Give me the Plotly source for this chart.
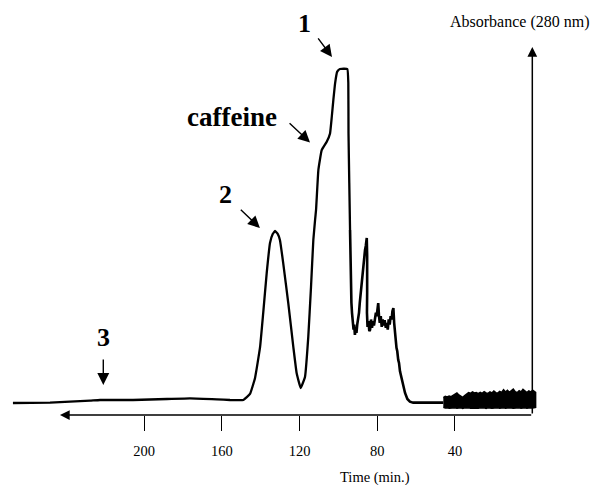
import plotly.graph_objects as go

# Chromatogram trace: elution time (min) and absorbance at 280 nm (relative units)
# smooth part of the run (baseline, peak 2, caffeine shoulder, peak 1)
time_min = [
    267.5, 248.4, 227.8, 222.7, 205.7, 188.2, 176.4, 162.5, 155.8, 148.9,
    145.5, 142.9, 140.3, 138.7, 136.9, 135.2, 133.8, 132.6, 131.3, 130.1,
    128.4, 125.8, 123.2, 121.5, 119.4, 117.2, 115.5, 114.1, 112.9, 112.0,
    111.5, 110.3, 108.6, 106.0, 104.3, 103.4, 102.6, 101.7, 100.6, 99.2,
    95.4, 94.9, 94.8, 94.4, 94.0,
]
absorbance = [
    0.000, 0.001, 0.007, 0.009, 0.009, 0.012, 0.014, 0.011, 0.009, 0.009,
    0.027, 0.075, 0.168, 0.269, 0.389, 0.479, 0.506, 0.515, 0.507, 0.488,
    0.419, 0.299, 0.168, 0.090, 0.045, 0.078, 0.198, 0.347, 0.488, 0.548,
    0.578, 0.698, 0.757, 0.782, 0.807, 0.857, 0.907, 0.957, 0.992, 1.000,
    1.000, 0.958, 0.808, 0.659, 0.518,
]

# noisy late-eluting region after peak 1
late_time = [
    94.0, 93.7, 93.3, 93.0, 92.6, 92.2, 91.9, 91.5, 91.1, 90.7, 90.3,
    89.8, 89.4, 89.0, 88.5, 88.0, 87.6, 87.2, 86.8, 86.3, 85.9,
    85.4, 85.2, 85.1, 85.2, 85.3, 85.0, 84.5, 84.1, 83.7, 83.2,
    82.7, 82.2, 81.7, 81.2, 80.7, 80.3, 79.9, 79.5, 79.1, 78.7,
    78.2, 77.7, 77.2, 76.7, 76.2, 75.6, 75.1, 74.6, 74.1, 73.6,
    73.1, 72.6, 72.2, 71.7, 71.3, 70.9, 70.5, 70.1, 69.7, 69.2,
    68.8, 68.3, 67.9, 67.4, 66.6, 65.7, 64.5, 63.2, 61.5, 46.0,
]
late_absorbance = [
    0.518, 0.347, 0.300, 0.270, 0.249, 0.220, 0.235, 0.204, 0.225, 0.210, 0.235,
    0.249, 0.270, 0.300, 0.330, 0.368, 0.390, 0.410, 0.430, 0.458, 0.470,
    0.494, 0.440, 0.398, 0.330, 0.270, 0.228, 0.245, 0.215, 0.219, 0.250,
    0.225, 0.245, 0.232, 0.249, 0.270, 0.260, 0.285, 0.299, 0.260, 0.240,
    0.260, 0.228, 0.250, 0.232, 0.248, 0.225, 0.240, 0.220, 0.250, 0.235,
    0.260, 0.250, 0.275, 0.284, 0.240, 0.198, 0.190, 0.165, 0.155, 0.129,
    0.120, 0.095, 0.085, 0.069, 0.048, 0.030, 0.012, 0.004, 0.001, 0.001,
]

# Noisy detector baseline at the end of the run: upper and lower envelope
noise_time = [
    46, 45, 44, 43, 42, 41, 40, 39, 38, 37, 36, 35, 34, 33, 32, 31, 30, 29,
    28, 27, 26, 25, 24, 23, 22, 21, 20, 19, 18, 17, 16, 15, 14, 13, 12, 11,
    10, 9, 8, 7, 6, 5, 4, 3, 2, 1, 0, -1, -1.5,
]
noise_upper = [
    0.016, 0.020, 0.018, 0.021, 0.019, 0.022, 0.026, 0.030, 0.024, 0.020,
    0.017, 0.022, 0.028, 0.031, 0.029, 0.033, 0.030, 0.031, 0.028, 0.032,
    0.029, 0.034, 0.030, 0.029, 0.033, 0.030, 0.036, 0.031, 0.030, 0.035,
    0.032, 0.040, 0.033, 0.038, 0.032, 0.036, 0.042, 0.034, 0.031, 0.037,
    0.033, 0.041, 0.035, 0.031, 0.036, 0.033, 0.038, 0.034, 0.032,
]
noise_lower = [
    -0.013, -0.015, -0.014, -0.016, -0.014, -0.015, -0.014, -0.016, -0.015, -0.014,
    -0.016, -0.014, -0.015, -0.014, -0.016, -0.015, -0.014, -0.015, -0.016, -0.014,
    -0.015, -0.014, -0.016, -0.014, -0.015, -0.016, -0.014, -0.015, -0.014, -0.016,
    -0.015, -0.014, -0.016, -0.015, -0.014, -0.015, -0.016, -0.014, -0.015, -0.014,
    -0.016, -0.015, -0.014, -0.016, -0.015, -0.014, -0.015, -0.014, -0.013,
]

tick_values = [200, 160, 120, 80, 40]
tick_labels = ["200", "160", "120", "80", "40"]

serif = "Liberation Serif"
ink = "#000000"

fig = go.Figure()

fig.add_trace(go.Scatter(
    x=time_min, y=absorbance, mode="lines",
    line=dict(color=ink, width=2.3, shape="spline", smoothing=0.3),
    hoverinfo="skip", showlegend=False,
))

fig.add_trace(go.Scatter(
    x=late_time, y=late_absorbance, mode="lines",
    line=dict(color=ink, width=2.6),
    hoverinfo="skip", showlegend=False,
))

fig.add_trace(go.Scatter(
    x=noise_time + noise_time[::-1],
    y=noise_upper + noise_lower[::-1],
    mode="lines", fill="toself", fillcolor=ink,
    line=dict(color=ink, width=1.5),
    hoverinfo="skip", showlegend=False,
))

annotations = []

# axis arrows (time runs right-to-left, absorbance upward at t = 0)
y_floor = -0.0359
annotations.append(dict(
    x=243.3, y=y_floor, ax=0.0, ay=y_floor, xref="x", yref="y", axref="x", ayref="y",
    text="", showarrow=True, arrowhead=2, arrowsize=1.3, arrowwidth=1.5,
    arrowcolor=ink, standoff=0, startstandoff=0,
))
annotations.append(dict(
    x=0.2, y=1.066, ax=0.2, ay=y_floor, xref="x", yref="y", axref="x", ayref="y",
    text="", showarrow=True, arrowhead=2, arrowsize=1.3, arrowwidth=1.5,
    arrowcolor=ink, standoff=0, startstandoff=0,
))

# peak pointers
pointers = [
    (103.3, 1.036, 111.0, 1.096),
    (114.6, 0.780, 125.9, 0.842),
    (140.4, 0.524, 151.0, 0.583),
    (221.0, 0.054, 221.0, 0.135),
]
for hx, hy, tx, ty in pointers:
    annotations.append(dict(
        x=hx, y=hy, ax=tx, ay=ty, xref="x", yref="y", axref="x", ayref="y",
        text="", showarrow=True, arrowhead=2, arrowsize=1.7, arrowwidth=1.4,
        arrowcolor=ink, standoff=0, startstandoff=0,
    ))

# peak labels
peak_labels = [
    ("1", 117.6, 1.135, 26),
    ("caffeine", 154.8, 0.856, 27),
    ("2", 157.9, 0.623, 26),
    ("3", 221.0, 0.195, 26),
]
for txt, lx, ly, size in peak_labels:
    annotations.append(dict(
        x=lx, y=ly, xref="x", yref="y", text=f"<b>{txt}</b>", showarrow=False,
        xanchor="center", yanchor="middle",
        font=dict(family=serif, size=size, color=ink),
    ))

annotations.append(dict(
    x=6.5, y=1.141, xref="x", yref="y", text="Absorbance (280 nm)", showarrow=False,
    xanchor="center", yanchor="middle",
    font=dict(family=serif, size=16, color=ink),
))
annotations.append(dict(
    x=81.2, y=0, xref="x", yref="paper", text="Time (min.)", showarrow=False,
    xanchor="center", yanchor="middle", yshift=-62,
    font=dict(family=serif, size=14.5, color=ink),
))

fig.update_layout(
    width=592, height=485,
    margin=dict(l=0, r=0, t=10, b=70),
    paper_bgcolor="white", plot_bgcolor="white",
    showlegend=False,
    annotations=annotations,
    xaxis=dict(
        range=[274.16, -30.52], showgrid=False, zeroline=False, showline=False,
        tickmode="array", tickvals=tick_values, ticktext=tick_labels,
        ticks="outside", ticklen=15, tickwidth=1.3, tickcolor=ink,
        ticklabelstandoff=8,
        tickfont=dict(family=serif, size=14.5, color=ink),
    ),
    yaxis=dict(
        range=[-0.0359, 1.1766], showgrid=False, zeroline=False, showline=False,
        showticklabels=False, ticks="",
    ),
)

fig.write_html("out.html")
